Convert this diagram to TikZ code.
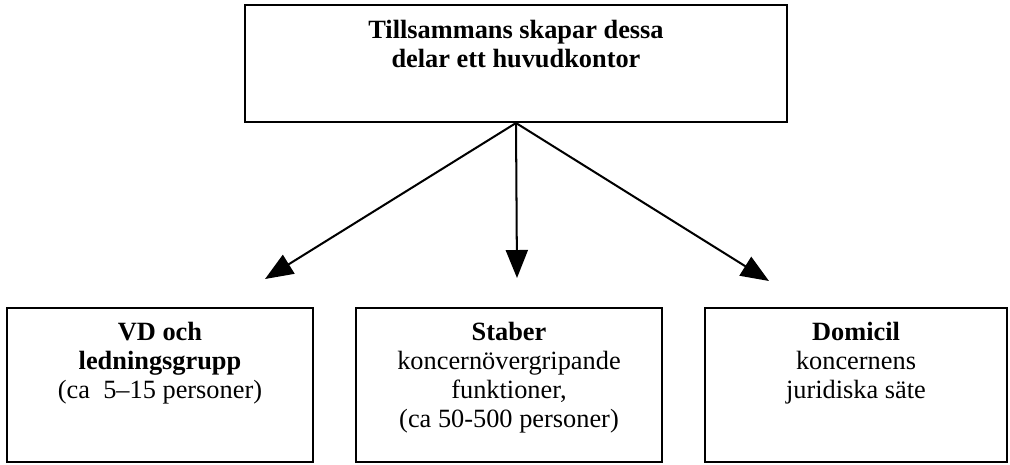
\documentclass[tikz,border=0pt]{standalone}
\usepackage{fontspec}
\setmainfont{Liberation Serif}
\usetikzlibrary{arrows.meta}
\begin{document}
\begin{tikzpicture}[x=0.02cm, y=-0.02cm,
        box/.style={draw, line width=1.15pt, inner sep=0pt, minimum height=3.08cm},
        boxtext/.style={anchor=north, align=center, inner sep=0pt,
            font=\fontsize{15pt}{16.5pt}\selectfont},
        link/.style={line width=1.15pt, -{Triangle[length=0.56cm, width=0.44cm]}}]
        % Fix the page size
        \useasboundingbox (0,0) rectangle (1010,464);

        % Draw the head office box
        \node[box, minimum width=10.84cm, minimum height=2.34cm] (hq) at (516,63.5) {};
        \node[boxtext] (hqtext) at ([yshift=-0.32cm]hq.north)
            {\bfseries Tillsammans skapar dessa\\ \bfseries delar ett huvudkontor};

        % Draw the three parts
        \node[box, minimum width=6.12cm] (vd) at (160,385) {};
        \node[box, minimum width=6.12cm] (staber) at (509,385) {};
        \node[box, minimum width=6.04cm] (domicil) at (856,385) {};

        \node[boxtext] (vdtext) at ([yshift=-0.3cm]vd.north)
            {\bfseries VD och\\ \bfseries ledningsgrupp\\ (ca\ \ 5--15 personer)};
        \node[boxtext] (stabertext) at ([yshift=-0.3cm]staber.north)
            {\bfseries Staber\\ koncernövergripande\\ funktioner,\\ (ca 50-500 personer)};
        \node[boxtext] (domiciltext) at ([yshift=-0.3cm]domicil.north)
            {\bfseries Domicil\\ koncernens\\ juridiska säte};

        % Arrow tips stop above the boxes
        \coordinate (tipvd) at (265,279);
        \coordinate (tipstaber) at (517,278);
        \coordinate (tipdomicil) at (769,281);

        \draw[link] (hq.south) -- (tipvd);
        \draw[link] (hq.south) -- (tipstaber);
        \draw[link] (hq.south) -- (tipdomicil);
    \end{tikzpicture}
\end{document}
